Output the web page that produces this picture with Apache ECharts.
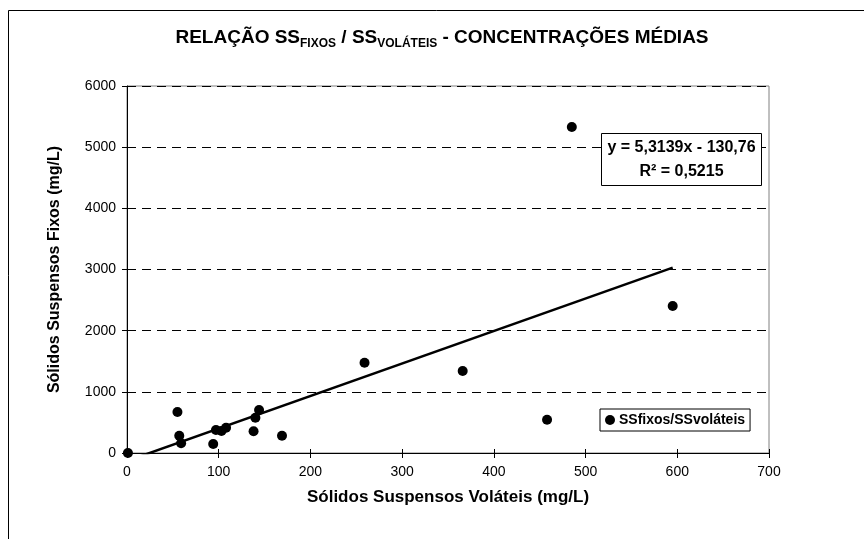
<!DOCTYPE html>
<html>
<head>
<meta charset="utf-8">
<script src="https://cdn.jsdelivr.net/npm/echarts@6/dist/echarts.min.js"></script>
<style>
html,body{margin:0;padding:0;background:#fff;}
#chart{width:864px;height:539px;}
</style>
</head>
<body>
<div id="chart"></div>
<script>
// ---- data ----
const seriesName = 'SSfixos/SSvoláteis';
const ssVolateis = [1, 55, 57, 59, 94, 97, 103, 108, 138, 140, 144, 169, 259, 366, 458, 485, 595];
const ssFixos    = [0, 670, 283, 159, 147, 376, 360, 414, 355, 577, 703, 283, 1476, 1340, 544, 5329, 2403];
// Excel linear trendline as printed on the chart
const trendSlope = 5.3139;
const trendIntercept = -130.76;
const equationText = 'y = 5,3139x - 130,76';
const r2Text = 'R² = 0,5215';
// axis scales
const xMin = 0, xMax = 700, xStep = 100;
const yMin = 0, yMax = 6000, yStep = 1000;
const xAxisTitle = 'Sólidos Suspensos Voláteis (mg/L)';
const yAxisTitle = 'Sólidos Suspensos Fixos (mg/L)';

const FONT = "'Liberation Sans', Arial, Helvetica, sans-serif";

const points = ssVolateis.map((x, i) => [x, ssFixos[i]]);
const tx0 = Math.min(...ssVolateis), tx1 = Math.max(...ssVolateis);
const trendData = [[tx0, trendSlope * tx0 + trendIntercept], [tx1, trendSlope * tx1 + trendIntercept]];

const chart = echarts.init(document.getElementById('chart'), null, {renderer: 'canvas'});

const axisCommonX = {type: 'value', min: xMin, max: xMax, interval: xStep};
const axisCommonY = {type: 'value', min: yMin, max: yMax, interval: yStep};
const plain = v => String(v);

chart.setOption({
  backgroundColor: '#ffffff',
  animation: false,
  title: {
    text: '{m|RELAÇÃO SS}{s|FIXOS}{m| / SS}{s|VOLÁTEIS}{m| - CONCENTRAÇÕES MÉDIAS}',
    left: 442,
    top: 26,
    textAlign: 'center',
    padding: 0,
    textStyle: {
      fontFamily: FONT,
      rich: {
        m: {fontSize: 19, fontWeight: 'bold', color: '#000', fontFamily: FONT, lineHeight: 24, verticalAlign: 'middle'},
        s: {fontSize: 12, fontWeight: 'bold', color: '#000', fontFamily: FONT, lineHeight: 12, verticalAlign: 'bottom'}
      }
    }
  },
  grid: {
    left: 127, right: 95, top: 86, bottom: 86,
    show: true, borderColor: '#808080', borderWidth: 1, backgroundColor: 'transparent'
  },
  legend: {
    data: [seriesName],
    left: 600, top: 409,
    orient: 'horizontal',
    padding: [4, 5, 4, 5],
    itemWidth: 10, itemHeight: 10, itemGap: 4,
    borderColor: '#000', borderWidth: 1,
    backgroundColor: '#fff',
    icon: 'circle',
    itemStyle: {color: '#000', opacity: 1},
    textStyle: {fontFamily: FONT, fontSize: 14, fontWeight: 'bold', color: '#000', padding: [0, 0, 0, -1]}
  },
  xAxis: [
    Object.assign({}, axisCommonX, {
      position: 'bottom',
      name: xAxisTitle,
      nameLocation: 'middle',
      nameGap: 36,
      nameTextStyle: {fontFamily: FONT, fontSize: 17, fontWeight: 'bold', color: '#000'},
      axisLine: {show: true, onZero: false, lineStyle: {color: '#000', width: 1}},
      axisTick: {show: true, inside: false, length: 5, lineStyle: {color: '#000'}},
      axisLabel: {fontFamily: FONT, fontSize: 14, color: '#000', margin: 12, formatter: plain},
      splitLine: {show: false}
    }),
    Object.assign({}, axisCommonX, {
      position: 'bottom',
      axisLine: {show: false, onZero: false},
      axisTick: {show: true, inside: true, length: 4, lineStyle: {color: '#000'}},
      axisLabel: {show: false},
      splitLine: {show: false}
    })
  ],
  yAxis: [
    Object.assign({}, axisCommonY, {
      position: 'left',
      name: yAxisTitle,
      nameLocation: 'middle',
      nameGap: 64,
      nameTextStyle: {fontFamily: FONT, fontSize: 16, fontWeight: 'bold', color: '#000'},
      axisLine: {show: true, onZero: false, lineStyle: {color: '#000', width: 1}},
      axisTick: {show: true, inside: false, length: 5, lineStyle: {color: '#000'}},
      axisLabel: {fontFamily: FONT, fontSize: 14, color: '#000', margin: 11, formatter: plain},
      splitLine: {show: true, lineStyle: {color: '#000', width: 1, type: [9, 6]}}
    }),
    Object.assign({}, axisCommonY, {
      position: 'left',
      axisLine: {show: false, onZero: false},
      axisTick: {show: true, inside: true, length: 4, lineStyle: {color: '#000'}},
      axisLabel: {show: false},
      splitLine: {show: false}
    })
  ],
  graphic: [
    {
      type: 'rect', silent: true, z: -10,
      shape: {x: 8.5, y: 10.5, width: 1000, height: 1000},
      style: {fill: 'none', stroke: '#000', lineWidth: 1}
    },
    {type: 'rect', z: 100, zlevel: 1, silent: true,
     shape: {x: 601.5, y: 133.5, width: 160, height: 52},
     style: {fill: '#fff', stroke: '#000', lineWidth: 1}},
    {type: 'text', z: 101, zlevel: 1, silent: true, x: 681.5, y: 147.5,
     style: {text: equationText, font: 'bold 16px ' + FONT, fill: '#000', align: 'center', verticalAlign: 'middle'}},
    {type: 'text', z: 101, zlevel: 1, silent: true, x: 681.5, y: 171.5,
     style: {text: r2Text, font: 'bold 16px ' + FONT, fill: '#000', align: 'center', verticalAlign: 'middle'}}
  ],
  series: [
    {
      name: 'Linear (' + seriesName + ')',
      type: 'line',
      data: trendData,
      clip: true,
      showSymbol: false,
      symbol: 'none',
      lineStyle: {color: '#000', width: 2.5},
      z: 2,
      silent: true
    },
    {
      name: seriesName,
      type: 'scatter',
      data: points,
      symbol: 'circle',
      symbolSize: 10,
      itemStyle: {color: '#000', opacity: 1},
      z: 3
    }
  ]
});
</script>
</body>
</html>
